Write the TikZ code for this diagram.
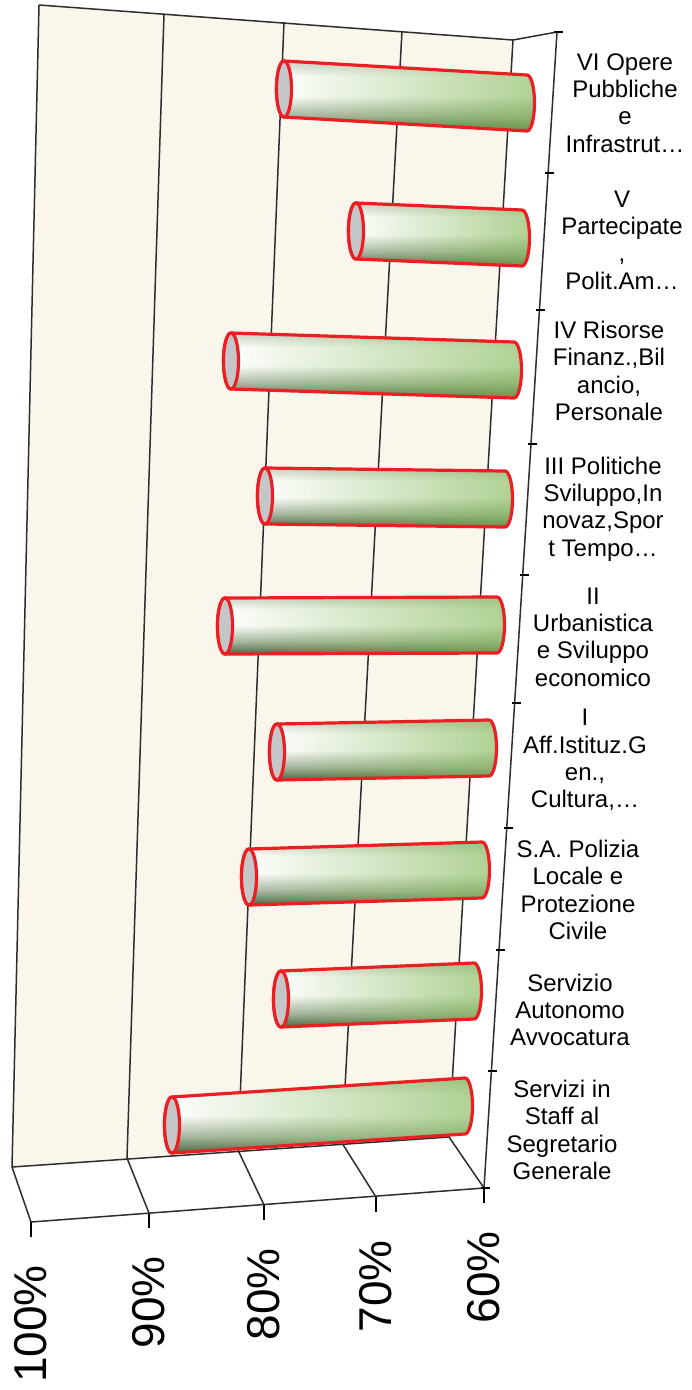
\documentclass[tikz,border=0pt]{standalone}
\usepackage{fontspec}
\setmainfont{Liberation Sans}
\usetikzlibrary{fadings}

\definecolor{wallcream}{RGB}{251,246,236}
\definecolor{gridgray}{RGB}{45,45,45}
\definecolor{cylgreen}{RGB}{128,182,84}
\definecolor{cyldark}{RGB}{72,100,62}
\definecolor{cylmid}{RGB}{170,182,164}
\definecolor{cyltop}{RGB}{205,210,200}
\definecolor{cylred}{RGB}{235,30,36}
\definecolor{capgray}{RGB}{196,198,200}

\pgfdeclareverticalshading{cylshade}{100bp}{color(0bp)=(cyldark); color(25bp)=(cyldark); color(36bp)=(cylmid); color(50bp)=(white); color(64bp)=(white); color(75bp)=(cyltop); color(100bp)=(cyltop)}
\tikzfading[name=cylgreenfade, left color=transparent!100, middle color=transparent!62, right color=transparent!38]

\tikzset{
  grid line/.style={draw=gridgray, line width=1.5pt},
  tick line/.style={draw=black, line width=1.2pt},
  cat label/.style={align=center, inner sep=0pt, font={\fontsize{24}{27.3}\selectfont}},
  pct label/.style={rotate=90, anchor=east, inner sep=0pt, font={\fontsize{46}{50}\selectfont}},
  cyl body/.style={shading=cylshade},
  cyl tint/.style={fill=cylgreen, path fading=cylgreenfade},
  cyl rim/.style={draw=cylred, line width=3.2pt, line join=round},
  cyl cap/.style={fill=capgray, draw=cylred, line width=3.2pt}
}

\begin{document}
\begin{tikzpicture}[x=1pt, y=1pt]
    \useasboundingbox (0,0) rectangle (691,-1390);

    \coordinate (wallTL) at (39,-5);
    \coordinate (wallTR) at (513,-40);
    \coordinate (wallBR) at (449,-1137);
    \coordinate (wallBL) at (12,-1167);
    \coordinate (axisT) at (557,-32);
    \coordinate (axisB) at (484,-1188);
    \coordinate (floorFL) at (31,-1222);

    \fill[wallcream] (wallTL) -- (wallTR) -- (wallBR) -- (wallBL) -- cycle;

    % value grid, floor and percent scale
    \foreach \xt/\yt/\xb/\yb/\xf/\yf/\pct in {39/5/12/1167/31/1222/100, 164/14/127/1158/149/1213/90, 284/22/238/1150/264/1205/80, 402/31/342/1143/376/1197/70, 513/40/449/1137/484/1188/60}{
        \draw[grid line] (\xt,-\yt) -- (\xb,-\yb) -- (\xf,-\yf);
        \draw[tick line] (\xf,-\yf) -- ++(0,-15);
        \node[pct label] (pct\pct) at (\xf,-\yf-43) {\pct\%};
    }
    \draw[grid line] (wallTL) -- (wallTR) -- (axisT);
    \draw[grid line] (wallBL) -- (wallBR);
    \draw[grid line] (floorFL) -- (axisB);

    % cylinders
    \foreach \xl/\yl/\xr/\yr [count=\i] in {284/89/527/103, 356/231/522/238, 231/361/514/370, 265/496/505/499, 225/626/497/625, 277/752/489/748, 249/877/482/870, 281/999/474/991, 172/1125/465/1106}{
        \coordinate (cylL\i) at (\xl,-\yl);
        \coordinate (cylR\i) at (\xr,-\yr);
        \def\cylpath{([yshift=28pt]cylL\i) -- ([yshift=28pt]cylR\i)
            arc[start angle=90, end angle=-90, x radius=7.5, y radius=28]
            -- ([yshift=-28pt]cylL\i)
            arc[start angle=270, end angle=90, x radius=7.5, y radius=28] -- cycle}
        \shade[cyl body] \cylpath;
        \fill[cyl tint] \cylpath;
        \draw[cyl rim] \cylpath;
        \filldraw[cyl cap] (cylL\i) ellipse[x radius=7.5, y radius=28];
    }

    % category axis
    \draw[grid line] (axisT) -- (axisB);
    \foreach \tx/\ty in {557/32, 548/173, 539/310, 531/444, 523/575, 515/703, 507/828, 499/950, 491/1071, 484/1188}
        \draw[tick line] (\tx-3,-\ty) -- (\tx+6,-\ty);

    \foreach \lx/\ly/\txt [count=\i] in {625/103/{VI Opere\\Pubbliche\\e\\Infrastrut…},
        622/240/{V\\Partecipate\\,\\Polit.Am…},
        609/371/{IV Risorse\\Finanz.,Bil\\ancio,\\Personale},
        603/509/{III Politiche\\Sviluppo,In\\novaz,Spor\\t Tempo…},
        593/637/{II\\Urbanistica\\e Sviluppo\\economico},
        585/760/{I\\Aff.Istituz.G\\en.,\\Cultura,…},
        578/890/{S.A. Polizia\\Locale e\\Protezione\\Civile},
        570/1010/{Servizio\\Autonomo\\Avvocatura},
        562/1130/{Servizi in\\Staff al\\Segretario\\Generale}}
        \node[cat label] (cat\i) at (\lx,-\ly) {\txt};
\end{tikzpicture}
\end{document}
